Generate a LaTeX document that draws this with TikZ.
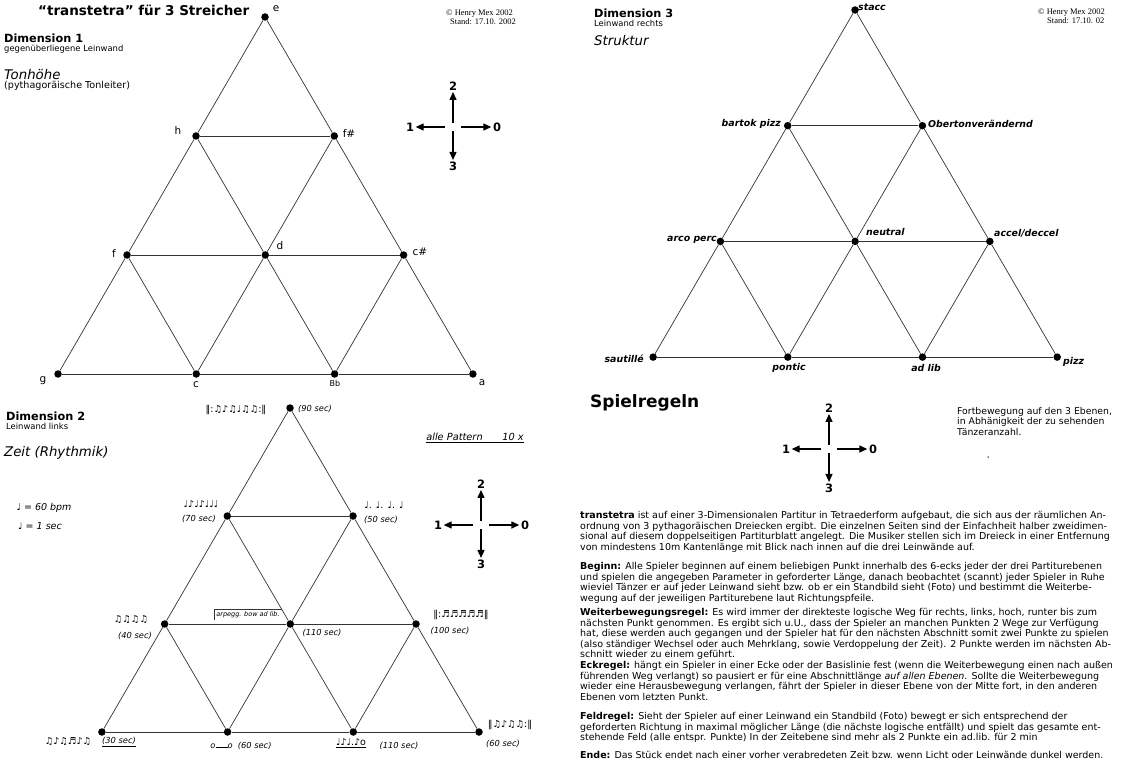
\documentclass[tikz,border=0pt]{standalone}
\usepackage{fontspec}
\setmainfont{DejaVu Sans}
\newfontfamily\stampfont{Liberation Serif}
\usepackage{tikz}
\usetikzlibrary{arrows.meta}
\tikzset{
  dot/.style={circle, fill=black, inner sep=0pt, minimum size=7.5pt},
  edge/.style={line width=0.7pt, draw=black!80},
  pitch/.style={font=\fontsize{10.5}{12}\selectfont, inner sep=0pt},
  struct/.style={font=\fontsize{9.4}{11}\selectfont\bfseries\itshape, inner sep=0pt},
  hand/.style={font=\fontsize{8.3}{9}\selectfont\itshape, inner sep=0pt},
  notes/.style={font=\fontsize{9.5}{10}\selectfont, inner sep=0pt},
  dirnum/.style={font=\fontsize{11.5}{12}\selectfont\bfseries, inner sep=1.5pt},
  dirarrow/.style={-{Triangle[length=8pt,width=7pt]}, line width=1.4pt, shorten <=4pt},
  head/.style={font=\fontsize{11.3}{12}\selectfont\bfseries, anchor=west, inner sep=0pt},
  sub/.style={font=\fontsize{8.4}{9}\selectfont, anchor=west, inner sep=0pt},
  topic/.style={font=\fontsize{13.3}{14}\selectfont\itshape, anchor=west, inner sep=0pt},
  stamp/.style={font=\stampfont\fontsize{8.5}{8.5}\selectfont, align=left, anchor=north west, inner sep=0pt},
  body/.style={font=\fontsize{9.5}{10.5}\selectfont, align=left, anchor=north west, inner sep=0pt},
}
\begin{document}
\begin{tikzpicture}[x=1pt, y=-1pt]
\useasboundingbox (0,0) rectangle (1126,767);

% the three lattices: T = Tonhoehe, Z = Zeit, S = Struktur
\foreach \p/\ax/\ay/\dx/\dy/\hx in {T/265/17/-69/119/138.3, Z/290/408/-62.7/108/125.7, S/855/10/-67.3/115.7/134.7} {
  \foreach \r in {0,...,3} {
    \foreach \c in {0,...,\r} {
      \node[dot] (\p\r\c) at (\ax+\r*\dx+\c*\hx, \ay+\r*\dy) {};
    }
  }
  \foreach \r in {0,1,2} {
    \pgfmathtruncatemacro\rn{\r+1}
    \foreach \c in {0,...,\r} {
      \pgfmathtruncatemacro\cn{\c+1}
      \draw[edge] (\p\r\c) -- (\p\rn\c);
      \draw[edge] (\p\r\c) -- (\p\rn\cn);
      \draw[edge] (\p\rn\c) -- (\p\rn\cn);
    }
  }
}

% direction crosses
\foreach \k/\cx/\cy in {k1/453/127, k2/481/525, k3/829/449} {
  \coordinate (\k) at (\cx,\cy);
  \node[dirnum] (\k-2) at (\cx,\cy-41) {2};
  \node[dirnum] (\k-1) at (\cx-43,\cy) {1};
  \node[dirnum] (\k-0) at (\cx+44,\cy) {0};
  \node[dirnum] (\k-3) at (\cx,\cy+39) {3};
  \draw[dirarrow] (\k) -- (\k-2);
  \draw[dirarrow] (\k) -- (\k-3);
  \draw[dirarrow, shorten <=8pt] (\k) -- (\k-1);
  \draw[dirarrow, shorten <=8pt] (\k) -- (\k-0);
}

% Dimension 1
\node[font=\fontsize{13.5}{14}\selectfont\bfseries, anchor=west, inner sep=0pt] (title) at (38,10) {“transtetra” für 3 Streicher};
\node[head] (dim1) at (4,38) {Dimension 1};
\node[sub] (dim1sub) at (4,49) {gegenüberliegene Leinwand};
\node[topic] (dim1top) at (4,75) {Tonhöhe};
\node[font=\fontsize{9.6}{10}\selectfont, anchor=west, inner sep=0pt] (dim1note) at (4,86) {(pythagoräische Tonleiter)};
\node[stamp] (stamp1) at (446,10) {© Henry Mex 2002\\\hspace*{4pt}Stand: 17.10. 2002};
\foreach \n/\x/\y/\t in {e/276/9/e, h/178/131/h, fis/349/134/f\#, f/114/254/f, d/280/246/d, cis/420/252/c\#, g/43/381/g, c/196/385/c, a/482/383/a} {
  \node[pitch] (lbl-\n) at (\x,\y) {\t};
}
\node[pitch, font=\fontsize{8}{9}\selectfont] (lbl-b) at (335,384) {Bb};

% Dimension 3
\node[head] (dim3) at (594,13) {Dimension 3};
\node[sub] (dim3sub) at (594,23) {Leinwand rechts};
\node[topic] (dim3top) at (594,41) {Struktur};
\node[stamp] (stamp3) at (1038,9) {© Henry Mex 2002\\\hspace*{9pt}Stand: 17.10. 02};
\foreach \n/\x/\y/\a/\t in {stacc/858/7/west/stacc, bartok/781/124/east/bartok pizz, oberton/928/124/west/Obertonverändernd,
    arco/717/240/east/arco perc, neutral/866/232/west/neutral, accel/994/233/west/{accel/deccel},
    sautille/644/359/east/sautillé, pontic/789/368/center/pontic, adlib/926/368/center/ad lib, pizz/1063/362/west/pizz} {
  \node[struct, anchor=\a] (lbl-\n) at (\x,\y) {\t};
}

% Dimension 2
\node[head] (dim2) at (6,416) {Dimension 2};
\node[sub] (dim2sub) at (6,426) {Leinwand links};
\node[topic] (dim2top) at (4,453) {Zeit (Rhythmik)};
\node[hand, font=\fontsize{9.5}{10}\selectfont\itshape] (tempo) at (44,508) {\upshape♩\itshape\ = 60 bpm};
\node[hand, font=\fontsize{9.5}{10}\selectfont\itshape] (beat) at (40,526) {\upshape♩\itshape\ = 1 sec};
\node[hand, font=\fontsize{9.8}{10}\selectfont\itshape] (pattern) at (475,438) {\underline{alle Pattern\qquad 10 x}};
\node[notes] (r00) at (236,410) {‖:♫♪♫♩♫♫:‖};
\node[hand] (s00) at (315,409) {(90 sec)};
\node[notes] (r10) at (201,504) {♩♪♩♪♩♩♩};
\node[hand] (s10) at (199,519) {(70 sec)};
\node[notes] (r11) at (384,505) {♩. ♩. ♩. ♩};
\node[hand] (s11) at (381,520) {(50 sec)};
\node[notes] (r20) at (131,620) {♫♫♫♫};
\node[hand] (s20) at (135,636) {(40 sec)};
\node[hand, font=\fontsize{6.5}{7}\selectfont\itshape, inner sep=2pt] (r21) at (248,615) {arpegg. bow ad lib.};
\draw[edge] (r21.north east) -- (r21.north west) -- (r21.south west);
\node[hand] (s21) at (322,633) {(110 sec)};
\node[notes] (r22) at (461,615) {‖:♬♬♬♬♬‖};
\node[hand] (s22) at (450,631) {(100 sec)};
\node[notes] (r30) at (68,742) {♫♪♫♬♪♫};
\node[hand] (s30) at (119,742) {\underline{(30 sec)}};
\node[hand] (s31) at (241,746) {o\rule[0.2ex]{12pt}{0.4pt}o\ \ (60 sec)};
\node[notes] (r32) at (351,743) {\underline{♩♪♩.♪o}};
\node[hand] (s32) at (399,746) {(110 sec)};
\node[notes] (r33) at (510,725) {‖♫♪♫♫:‖};
\node[hand] (s33) at (503,744) {(60 sec)};

% Spielregeln
\node[font=\fontsize{17}{18}\selectfont\bfseries, anchor=west, inner sep=0pt] (rules) at (590,403) {Spielregeln};
\node[body, font=\fontsize{9.3}{10.5}\selectfont] (legend) at (957,407) {Fortbewegung auf den 3 Ebenen,\\in Abhänigkeit der zu sehenden\\Tänzeranzahl.};
\node[circle, fill=black, inner sep=0pt, minimum size=1.5pt] (speck) at (988,457) {};
\node[body] (p1) at (580,511.5) {\textbf{transtetra} ist auf einer 3-Dimensionalen Partitur in Tetraederform aufgebaut, die sich aus der räumlichen An-\\
ordnung von 3 pythagoräischen Dreiecken ergibt. Die einzelnen Seiten sind der Einfachheit halber zweidimen-\\
sional auf diesem doppelseitigen Partiturblatt angelegt. Die Musiker stellen sich im Dreieck in einer Entfernung\\
von mindestens 10m Kantenlänge mit Blick nach innen auf die drei Leinwände auf.};
\node[body] (p2) at (580,562.5) {\textbf{Beginn:} Alle Spieler beginnen auf einem beliebigen Punkt innerhalb des 6-ecks jeder der drei Partiturebenen\\
und spielen die angegeben Parameter in geforderter Länge, danach beobachtet (scannt) jeder Spieler in Ruhe\\
wieviel Tänzer er auf jeder Leinwand sieht bzw. ob er ein Standbild sieht (Foto) und bestimmt die Weiterbe-\\
wegung auf der jeweiligen Partiturebene laut Richtungspfeile.};
\node[body] (p3) at (580,608.5) {\textbf{Weiterbewegungsregel:} Es wird immer der direkteste logische Weg für rechts, links, hoch, runter bis zum\\
nächsten Punkt genommen. Es ergibt sich u.U., dass der Spieler an manchen Punkten 2 Wege zur Verfügung\\
hat, diese werden auch gegangen und der Spieler hat für den nächsten Abschnitt somit zwei Punkte zu spielen\\
(also ständiger Wechsel oder auch Mehrklang, sowie Verdoppelung der Zeit). 2 Punkte werden im nächsten Ab-\\
schnitt wieder zu einem geführt.};
\node[body] (p4) at (580,661.5) {\textbf{Eckregel:} hängt ein Spieler in einer Ecke oder der Basislinie fest (wenn die Weiterbewegung einen nach außen\\
führenden Weg verlangt) so pausiert er für eine Abschnittlänge \textit{auf allen Ebenen}. Sollte die Weiterbewegung\\
wieder eine Herausbewegung verlangen, fährt der Spieler in dieser Ebene von der Mitte fort, in den anderen\\
Ebenen vom letzten Punkt.};
\node[body] (p5) at (580,712.5) {\textbf{Feldregel:} Sieht der Spieler auf einer Leinwand ein Standbild (Foto) bewegt er sich entsprechend der\\
geforderten Richtung in maximal möglicher Länge (die nächste logische entfällt) und spielt das gesamte ent-\\
stehende Feld (alle entspr. Punkte) In der Zeitebene sind mehr als 2 Punkte ein ad.lib. für 2 min};
\node[body] (p6) at (580,751.5) {\textbf{Ende:} Das Stück endet nach einer vorher verabredeten Zeit bzw. wenn Licht oder Leinwände dunkel werden.};
\end{tikzpicture}
\end{document}
